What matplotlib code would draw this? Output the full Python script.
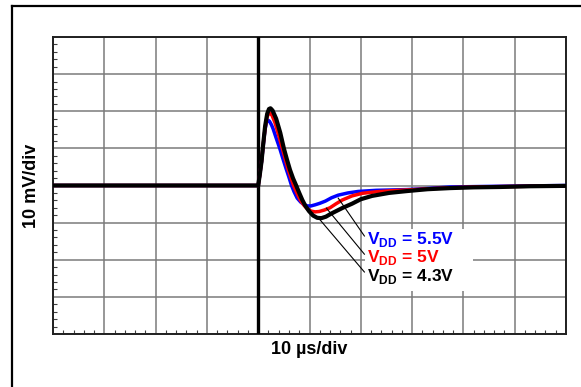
import matplotlib
matplotlib.use("Agg")
import matplotlib.pyplot as plt
from matplotlib.lines import Line2D
from matplotlib.patches import Rectangle

# Load-transient response of the output, three supply voltages (time in us, output deviation in mV)
t_43 = [-40, 0, 0.3, 0.65, 1.0, 1.35, 1.75, 2.1, 2.4, 2.8, 3.5, 4.3, 5.0, 5.6, 6.2, 6.8, 7.4,
        8.0, 8.6, 9.2, 9.9, 10.7, 11.5, 12.3, 13.2, 14.2, 15.2, 16.5, 18.3, 20.0, 22.2, 25.5,
        29.0, 33, 37.4, 42, 47.2, 53, 60]
v_43 = [0, 0, 2.8, 6.5, 11.5, 16.0, 19.3, 20.6, 20.8, 20.2, 18.0, 14.2, 10.0, 7.0, 4.2, 1.9, 0.0,
        -2.0, -3.9, -5.5, -6.9, -8.1, -8.7, -8.8, -8.4, -7.6, -6.9, -6.0, -4.9, -3.7, -2.8, -2.0,
        -1.5, -1.0, -0.7, -0.5, -0.4, -0.2, -0.1]

t_50 = [-40, 0, 0.3, 0.65, 1.0, 1.35, 1.7, 2.0, 2.3, 2.7, 3.3, 4.0, 4.7, 5.3, 5.8, 6.4, 6.9,
        7.5, 8.2, 8.9, 9.6, 10.3, 11.1, 11.9, 12.9, 14.0, 15.2, 16.4, 18.3, 20.3, 23, 26,
        29, 33, 37.4, 42, 47, 53, 60]
v_50 = [0, 0, 2.8, 6.5, 11.3, 15.5, 18.3, 19.4, 19.5, 18.9, 16.8, 13.5, 10.0, 7.0, 4.5, 2.0, 0.0,
        -1.9, -3.9, -5.3, -6.3, -6.9, -7.1, -7.0, -6.6, -6.0, -4.9, -3.9, -2.8, -2.1, -1.7, -1.4,
        -1.2, -0.9, -0.6, -0.4, -0.3, -0.2, -0.1]

t_55 = [-40, 0, 0.3, 0.65, 1.0, 1.3, 1.6, 1.9, 2.2, 2.6, 2.9, 3.5, 4.2, 4.8, 5.4, 6.0, 6.5,
        7.0, 7.6, 8.3, 9.0, 9.6, 10.3, 11.1, 12.0, 13.1, 14.3, 15.6, 17.5, 19.5, 23, 26,
        29, 33, 37.4, 42, 47, 53, 60]
v_55 = [0, 0, 2.8, 6.4, 11.0, 14.8, 17.0, 17.6, 17.3, 16.3, 15.3, 12.8, 10.0, 7.3, 4.7, 2.2, 0.0,
        -1.7, -3.4, -4.5, -5.2, -5.5, -5.5, -5.2, -4.8, -4.2, -3.3, -2.6, -2.0, -1.6, -1.3, -1.2,
        -1.1, -0.8, -0.4, -0.3, -0.2, -0.1, 0.0]

labels = ["V$_{\\mathbf{DD}}$ = 5.5V", "V$_{\\mathbf{DD}}$ = 5V", "V$_{\\mathbf{DD}}$ = 4.3V"]
label_colors = ["#0000ff", "#ff0000", "#000000"]

W, H = 581, 387
fig = plt.figure(figsize=(W / 100, H / 100), dpi=100)
plt.rcParams["font.family"] = ["Liberation Sans", "DejaVu Sans"]
plt.rcParams["mathtext.fontset"] = "custom"
plt.rcParams["mathtext.rm"] = "Liberation Sans:bold"
plt.rcParams["mathtext.bf"] = "Liberation Sans:bold"

# outer frame (left and top edges)
fig.add_artist(Line2D([11.5 / W, 11.5 / W], [-0.01, 1 - 6 / H], color="black", lw=1.6,
                      transform=fig.transFigure))
fig.add_artist(Line2D([11.5 / W, 1.01], [1 - 6 / H, 1 - 6 / H], color="black", lw=1.6,
                      transform=fig.transFigure))

ax = fig.add_axes([53 / W, (H - 334) / H, 513 / W, 297 / H])
ax.set_xlim(-40, 60)
ax.set_ylim(-40, 40)

ax.set_xticks(range(-40, 61, 10))
ax.set_yticks(range(-40, 41, 10))
ax.set_xticks(range(-40, 61, 2), minor=True)
ax.set_yticks(range(-40, 41, 2), minor=True)
ax.tick_params(which="major", length=0, labelbottom=False, labelleft=False)
ax.tick_params(which="minor", direction="in", length=3, width=0.8, color="#404040",
               bottom=True, left=True, top=False, right=False)
ax.grid(which="major", color="#7a7a7a", lw=1.1)
for s in ax.spines.values():
    s.set_linewidth(1.4)
    s.set_color("#202020")

# trigger marker
ax.axvline(0, color="black", lw=2.4, zorder=3)

ax.plot(t_55, v_55, color="#0000ff", lw=2.5, zorder=4, solid_joinstyle="round")
ax.plot(t_50, v_50, color="#ff0000", lw=2.5, zorder=5, solid_joinstyle="round")
ax.plot(t_43, v_43, color="#000000", lw=3.0, zorder=6, solid_joinstyle="round")

# white panel behind the supply-voltage labels
ax.add_patch(Rectangle((20.8, -28.5), 21.0, 16.8, facecolor="white", edgecolor="none",
                       zorder=2.5))

# leader lines from each trace to its label
leaders = [((15.6, -3.4), (20.7, -13.6)),
           ((13.3, -6.1), (20.7, -18.5)),
           ((11.9, -9.0), (20.7, -23.3))]
for (x0, y0), (x1, y1) in leaders:
    ax.plot([x0, x1], [y0, y1], color="black", lw=0.8, zorder=7)

for lab, col, y in zip(labels, label_colors, [-14.6, -19.5, -24.4]):
    ax.text(21.3, y, lab, color=col, fontsize=12.5, fontweight="bold",
            va="center", ha="left", zorder=8)

fig.text(31 / W, 1 - 186 / H, "10 mV/div", rotation=90, fontsize=13, fontweight="bold",
         ha="center", va="center")
fig.text(309 / W, 1 - 349 / H, "10 µs/div", fontsize=13, fontweight="bold",
         ha="center", va="center")

fig.savefig("out.png", dpi=100, facecolor="white")
